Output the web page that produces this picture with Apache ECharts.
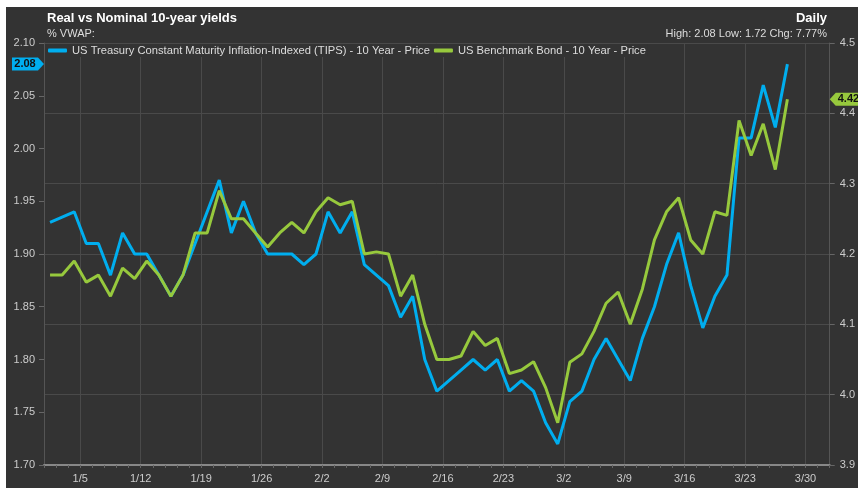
<!DOCTYPE html>
<html>
<head>
<meta charset="utf-8">
<title>Real vs Nominal 10-year yields</title>
<script src="https://cdn.jsdelivr.net/npm/echarts@6/dist/echarts.min.js"></script>
<style>
  html, body { margin: 0; padding: 0; background: #fff; }
  #chart { position: absolute; left: 6px; top: 7px; width: 852px; height: 481px; background: #333; }
</style>
</head>
<body>
<div id="chart"></div>
<script>
// one slot per weekday, 12/31 .. 3/31
const days = [
  '12/31', '1/1', '1/2',
  '1/5', '1/6', '1/7', '1/8', '1/9',
  '1/12', '1/13', '1/14', '1/15', '1/16',
  '1/19', '1/20', '1/21', '1/22', '1/23',
  '1/26', '1/27', '1/28', '1/29', '1/30',
  '2/2', '2/3', '2/4', '2/5', '2/6',
  '2/9', '2/10', '2/11', '2/12', '2/13',
  '2/16', '2/17', '2/18', '2/19', '2/20',
  '2/23', '2/24', '2/25', '2/26', '2/27',
  '3/2', '3/3', '3/4', '3/5', '3/6',
  '3/9', '3/10', '3/11', '3/12', '3/13',
  '3/16', '3/17', '3/18', '3/19', '3/20',
  '3/23', '3/24', '3/25', '3/26', '3/27',
  '3/30', '3/31'
]

// weekly labels under the axis (Mondays)
const weekLabels = ['1/5', '1/12', '1/19', '1/26', '2/2', '2/9', '2/16', '2/23', '3/2', '3/9', '3/16', '3/23', '3/30']

// TIPS 10y real yield (left axis)
const tipsYield = [
  1.93, 1.935, 1.94, 1.91, 1.91, 1.88, 1.92, 1.90, 1.90, 1.88,
  1.86, 1.88, 1.91, 1.94, 1.97, 1.92, 1.95, 1.92, 1.90, 1.90,
  1.90, 1.89, 1.90, 1.94, 1.92, 1.94, 1.89, 1.88, 1.87, 1.84,
  1.86, 1.80, 1.77, 1.78, 1.79, 1.80, 1.79, 1.80, 1.77, 1.78,
  1.77, 1.74, 1.72, 1.76, 1.77, 1.80, 1.82, 1.80, 1.78, 1.82,
  1.85, 1.89, 1.92, 1.87, 1.83, 1.86, 1.88, 2.01, 2.01, 2.06,
  2.02, 2.08
]

// US benchmark 10y nominal yield (right axis)
const bondYield = [
  4.17, 4.17, 4.19, 4.16, 4.17, 4.14, 4.18, 4.165, 4.19, 4.17,
  4.14, 4.17, 4.23, 4.23, 4.29, 4.25, 4.25, 4.23, 4.21, 4.23,
  4.245, 4.23, 4.26, 4.28, 4.27, 4.275, 4.20, 4.203, 4.20, 4.14,
  4.17, 4.10, 4.05, 4.05, 4.055, 4.09, 4.07, 4.08, 4.03, 4.035,
  4.047, 4.01, 3.96, 4.046, 4.058, 4.09, 4.13, 4.146, 4.10, 4.15,
  4.22, 4.26, 4.28, 4.22, 4.20, 4.26, 4.255, 4.39, 4.34, 4.385,
  4.32, 4.42
]

const tipsName = 'US Treasury Constant Maturity Inflation-Indexed (TIPS) - 10 Year - Price'
const bondName = 'US Benchmark Bond - 10 Year - Price'
const blue = '#00aeef'
const green = '#97c93d'
const font = 'Liberation Sans, Arial, sans-serif'

// tick positions sit on slot edges, so the label axis has one more entry than days
const edges = days.concat([''])
const isWeekStart = (i) => weekLabels.indexOf(edges[i]) >= 0

const high = Math.max(...tipsYield)
const low = Math.min(...tipsYield)
const chg = (tipsYield[tipsYield.length - 1] / tipsYield[0] - 1) * 100

const chart = echarts.init(document.getElementById('chart'))

const option = {
  backgroundColor: '#333',
  animation: false,
  textStyle: { fontFamily: font },
  title: [
    { text: 'Real vs Nominal 10-year yields', left: 41, top: 5, padding: 0,
      textStyle: { color: '#fff', fontSize: 13, fontWeight: 'bold', fontFamily: font } },
    { text: '% VWAP:', left: 41, top: 21, padding: 0,
      textStyle: { color: '#ddd', fontSize: 11, fontWeight: 'normal', fontFamily: font } },
    { text: 'Daily', right: 31, top: 5, padding: 0,
      textStyle: { color: '#fff', fontSize: 13, fontWeight: 'bold', fontFamily: font } },
    { text: 'High: ' + high.toFixed(2) + ' Low: ' + low.toFixed(2) + ' Chg: ' + chg.toFixed(2) + '%',
      right: 31, top: 21, padding: 0,
      textStyle: { color: '#ddd', fontSize: 11, fontWeight: 'normal', fontFamily: font } }
  ],
  legend: {
    left: 40,
    top: 37,
    padding: [1, 2],
    itemGap: 4,
    itemWidth: 19,
    itemHeight: 4,
    icon: 'roundRect',
    backgroundColor: '#333',
    textStyle: { color: '#ddd', fontSize: 11.2, fontFamily: font },
    data: [tipsName, bondName]
  },
  grid: { left: 38, right: 27, top: 36, bottom: 23 },
  xAxis: [
    {
      // data axis, one band per day
      type: 'category',
      data: days,
      boundaryGap: true,
      position: 'top',
      show: false
    },
    {
      // visible axis: ticks on every day edge, labels on Mondays
      type: 'category',
      data: edges,
      boundaryGap: false,
      position: 'bottom',
      axisLine: { lineStyle: { color: '#888', width: 2 } },
      axisTick: { show: true, interval: 0, length: 3, lineStyle: { color: '#666' } },
      axisLabel: {
        interval: (i) => isWeekStart(i),
        color: '#ccc', fontSize: 11, margin: 8, fontFamily: font
      },
      splitLine: {
        show: true,
        interval: (i) => isWeekStart(i),
        lineStyle: { color: '#4a4a4a' }
      }
    }
  ],
  yAxis: [
    {
      type: 'value',
      position: 'left',
      min: 1.7,
      max: 2.1,
      interval: 0.05,
      axisLine: { show: true, lineStyle: { color: '#555' } },
      axisTick: { show: true, length: 5, lineStyle: { color: '#666' } },
      axisLabel: { color: '#ccc', fontSize: 11, margin: 9, fontFamily: font, formatter: (v) => v.toFixed(2) },
      splitLine: { show: false }
    },
    {
      type: 'value',
      position: 'right',
      min: 3.9,
      max: 4.5,
      interval: 0.1,
      axisLine: { show: true, lineStyle: { color: '#555' } },
      axisTick: { show: true, length: 5, lineStyle: { color: '#666' } },
      axisLabel: { color: '#ccc', fontSize: 11, margin: 10, fontFamily: font, formatter: (v) => v.toFixed(1) },
      splitLine: { show: true, lineStyle: { color: '#4a4a4a' } }
    }
  ],
  series: [
    {
      name: tipsName,
      type: 'line',
      xAxisIndex: 0,
      yAxisIndex: 0,
      data: tipsYield,
      showSymbol: false,
      lineStyle: { width: 3, color: blue },
      itemStyle: { color: blue },
      z: 3
    },
    {
      name: bondName,
      type: 'line',
      xAxisIndex: 0,
      yAxisIndex: 1,
      data: bondYield,
      showSymbol: false,
      lineStyle: { width: 3, color: green },
      itemStyle: { color: green },
      z: 4
    }
  ]
}

chart.setOption(option)

// last-value tags on both axes, placed through the axis scales
const lastTips = tipsYield[tipsYield.length - 1]
const lastBond = bondYield[bondYield.length - 1]
const yTips = chart.convertToPixel({ yAxisIndex: 0 }, lastTips)
const yBond = chart.convertToPixel({ yAxisIndex: 1 }, lastBond)
const xLeft = chart.convertToPixel({ xAxisIndex: 1 }, 0)
const xRight = chart.convertToPixel({ xAxisIndex: 1 }, edges.length - 1)

chart.setOption({
  graphic: [
    {
      type: 'polygon',
      shape: { points: [[xLeft - 32, yTips - 6.5], [xLeft - 6, yTips - 6.5], [xLeft, yTips], [xLeft - 6, yTips + 6.5], [xLeft - 32, yTips + 6.5]] },
      style: { fill: blue },
      z: 100
    },
    {
      type: 'text',
      x: xLeft - 19,
      y: yTips,
      style: { text: lastTips.toFixed(2), fill: '#111', font: 'bold 11px ' + font, align: 'center', verticalAlign: 'middle' },
      z: 101
    },
    {
      type: 'polygon',
      shape: { points: [[xRight, yBond], [xRight + 6, yBond - 6.5], [xRight + 40, yBond - 6.5], [xRight + 40, yBond + 6.5], [xRight + 6, yBond + 6.5]] },
      style: { fill: green },
      z: 100
    },
    {
      type: 'text',
      x: xRight + 8,
      y: yBond,
      style: { text: lastBond.toFixed(2), fill: '#111', font: 'bold 11px ' + font, align: 'left', verticalAlign: 'middle' },
      z: 101
    }
  ]
})
</script>
</body>
</html>
